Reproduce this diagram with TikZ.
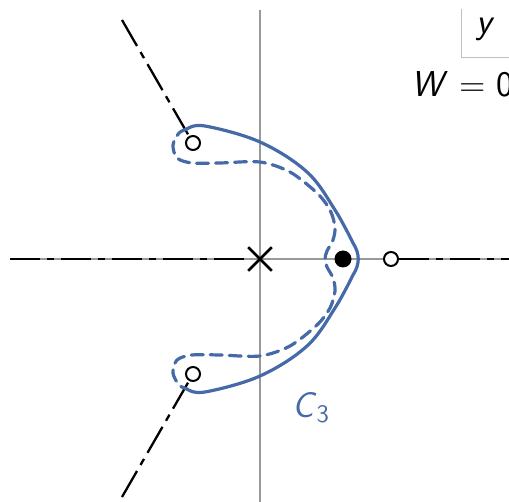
\documentclass[tikz,border=0pt]{standalone}
\usetikzlibrary{shapes.misc}
\definecolor{locus}{RGB}{70,106,168}
\begin{document}
\begin{tikzpicture}[x=0.5pt,y=-0.5pt,
  axis/.style={black!40,line width=0.6pt},
  ray/.style={line width=1.15pt,dash pattern=on 15pt off 3.5pt on 3.5pt off 3.5pt},
  zero/.style={circle,draw,line width=1pt,fill=white,inner sep=0pt,minimum size=7pt},
  pole/.style={circle,fill,inner sep=0pt,minimum size=8.5pt},
  contour/.style={locus,line width=1.6pt,line join=round,line cap=round},
  lbl/.style={font=\sffamily\fontsize{18}{20}\selectfont,inner sep=0pt}]
  \useasboundingbox (0,0) rectangle (509,502);
  % axes
  \draw[axis] (260,10) -- (260,502);
  \draw[axis] (10,259) -- (509,259);
  % legend box (cut off)
  \draw[black!25,line width=0.5pt] (461,9) -- (461,58) -- (509,58);
  \node[lbl] (ylab) at (486,29) {\textit{y}};
  \node[lbl,anchor=base west] (wlab) at (411,97) {\textit{W} = 0};
  % poles and zeros
  \node[draw,cross out,line width=1.3pt,minimum size=10.5pt,inner sep=0pt] (o) at (260,259) {};
  \node[pole] (p1) at (343,259) {};
  \node[zero] (z1) at (193,143) {};
  \node[zero] (z2) at (193,374) {};
  \node[zero] (z3) at (391,259) {};
  % asymptotes
  \coordinate (a1) at (122,20);
  \coordinate (a2) at (122,497);
  \coordinate (a3) at (10,259);
  \coordinate (a4) at (509,259);
  \draw[ray] (a1) -- (z1);
  \draw[ray] (a2) -- (z2);
  \draw[ray] (a3) -- (o);
  \draw[ray] (z3) -- (a4);
  % contour C3, solid and dashed
  \draw[contour] plot[smooth,tension=0.6] coordinates {(187,129) (205,126) (260,142) (307,172) (335,210) (353,243)}
    .. controls (360,254) and (360,264) .. (353,275)
    -- plot[smooth,tension=0.6] coordinates {(353,275) (335,308) (307,346) (260,376) (205,392) (187,389)};
  \draw[contour,dash pattern=on 6pt off 3.5pt] plot[smooth] coordinates {(187,129) (179,133) (173,145) (177,158) (192,163) (220,163) (260,162) (290,172) (317,193) (330,210) (335,227) (333,240) (327,251) (325,259)
    (327,267) (333,278) (335,291) (330,308) (317,325) (290,346) (260,356) (220,355) (192,355) (177,360) (173,373) (179,385) (187,389)};
  \node[lbl,text=locus] (c3) at (311,408) {\textit{C}\textsubscript{3}};
\end{tikzpicture}
\end{document}
